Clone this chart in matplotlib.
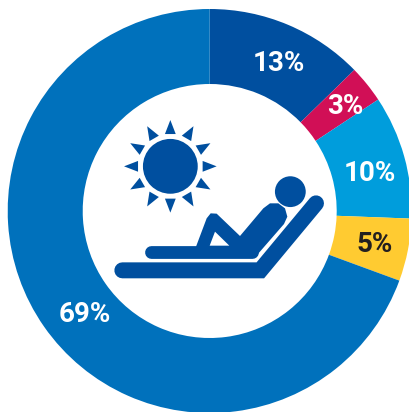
import numpy as np
import matplotlib
matplotlib.use('Agg')
import matplotlib.pyplot as plt
from matplotlib.patches import Circle, Polygon

# shares (clockwise from 12 o'clock)
shares = [12.7, 3.0, 9.9, 5.0, 69.4]
labels = ['13%', '3%', '10%', '5%', '69%']
colors = ['#004f9f', '#d10f56', '#009ddc', '#ffcb31', '#0071bc']
label_colors = ['white', 'white', 'white', '#231f20', 'white']
label_pos = [(279, 63), (345, 106), (370, 173), (375, 244), (85, 314)]

ICON = '#004f9f'
plt.rcParams['font.family'] = ['Roboto', 'DejaVu Sans']


def px(x, y):
    """icon points were measured on a 3x crop starting at (100, 100)"""
    return 100 + x / 3, 100 + y / 3


def main():
    fig = plt.figure(figsize=(4.10, 4.12), dpi=100)
    ax = fig.add_axes([0, 0, 1, 1])

    # y axis is flipped below, so counterclock + -90 runs clockwise from the top
    ax.pie(shares, colors=colors, center=(209.7, 211), radius=202,
           startangle=-90, counterclock=True,
           wedgeprops={'width': 75, 'linewidth': 0})

    for text, col, pos in zip(labels, label_colors, label_pos):
        ax.text(pos[0], pos[1], text, color=col, fontsize=20, fontweight='bold',
                ha='center', va='center')

    # sun
    sx, sy = px(211, 199)
    ax.add_patch(Circle((sx, sy), 27.4, color=ICON, lw=0))
    for deg in range(0, 360, 30):
        a = np.radians(deg)
        d = np.array([np.cos(a), np.sin(a)])
        n = np.array([-d[1], d[0]])
        c = np.array([sx, sy])
        ax.add_patch(Polygon([c + d * 46.3, c + d * 32.3 + n * 5.4, c + d * 32.3 - n * 5.4],
                             color=ICON, lw=0))

    # head
    ax.add_patch(Circle(px(571, 275), 15.4, color=ICON, lw=0))

    # lounger
    xs, ys = zip(px(67, 511), px(481, 511), px(648, 310))
    ax.plot(xs, ys, color=ICON, lw=11.5, solid_capstyle='round', solid_joinstyle='miter')

    # seat / body
    xs, ys = zip(px(154, 456), px(455, 456))
    ax.plot(xs, ys, color=ICON, lw=9.2, solid_capstyle='round')
    body = [px(*p) for p in [(288, 440), (320, 355), (332, 340), (350, 341), (420, 408),
                             (490, 325), (510, 310), (535, 310), (555, 325), (562, 350),
                             (552, 372), (465, 472), (300, 472)]]
    ax.add_patch(Polygon(body, color=ICON, lw=0))
    hole = [px(*p) for p in [(345, 395), (329, 437), (388, 437)]]
    ax.add_patch(Polygon(hole, color='white', lw=0))

    ax.set_xlim(0, 410)
    ax.set_ylim(412, 0)
    ax.axis('off')
    fig.savefig('out.png', dpi=100)


if __name__ == '__main__':
    main()
